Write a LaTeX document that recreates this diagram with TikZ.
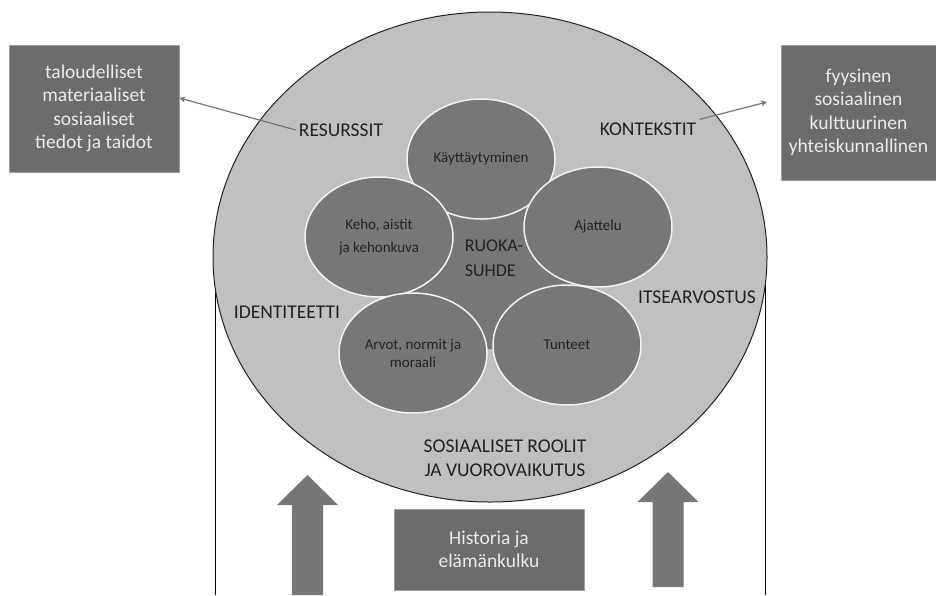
\documentclass[tikz,border=0pt]{standalone}
\usepackage{fontspec}
\setmainfont{Carlito}
\usepackage{xcolor}
\usetikzlibrary{arrows.meta, shapes.geometric}

\definecolor{ringgray}{HTML}{C0C0C0}
\definecolor{topicgray}{HTML}{777777}
\definecolor{boxgray}{HTML}{6C6C6C}
\definecolor{arrowgray}{HTML}{767676}
\definecolor{inkgray}{HTML}{222222}

\tikzset{
  infobox/.style={draw=gray!75, line width=0.8pt, fill=boxgray, text=white!92!black,
    align=center, inner sep=0pt, font=\fontsize{19.5}{23.5}\selectfont},
  topic/.style={ellipse, draw=white!95!black, line width=1.5pt, fill=topicgray,
    minimum width=148pt, minimum height=120pt, inner sep=0pt, align=center,
    text=inkgray, font=\fontsize{15}{18}\selectfont},
  ringlabel/.style={text=inkgray, align=center, inner sep=3pt,
    font=\fontsize{19.5}{23.5}\selectfont},
  pointer/.style={draw=arrowgray, line width=1.2pt, -{Stealth[length=6pt,width=6pt]}}
}

\begin{document}
\begin{tikzpicture}[x=1pt, y=-1pt]
  \useasboundingbox (0,0) rectangle (936,595);

  % Frame lines under the ring
  \draw[line width=0.8pt] (215,257) -- (215,595);
  \draw[line width=0.8pt] (765,257) -- (765,595);

  % Outer ring
  \filldraw[fill=ringgray, draw=inkgray, line width=1pt] (490,257) ellipse (277 and 245);

  % Centres of the five topics
  \coordinate (kayc) at (481,159);
  \coordinate (ajac) at (598,227);
  \coordinate (tunc) at (567,345);
  \coordinate (arvc) at (413,353);
  \coordinate (kehc) at (379,237);

  % Core area
  \fill[topicgray] (kayc) -- (ajac) -- (tunc) -- (arvc) -- (kehc) -- cycle;
  \node[ringlabel, align=left, font=\fontsize{18}{25}\selectfont] (ruoka) at (494,258) {RUOKA-\\SUHDE};

  % Topics
  \node[topic] (kay) at (kayc) {Käyttäytyminen};
  \node[topic, font=\fontsize{15}{23}\selectfont] (keh) at (kehc) {Keho, aistit\\ja kehonkuva};
  \node[topic] (aja) at (ajac) {Ajattelu};
  \node[topic] (arv) at (arvc) {Arvot, normit ja\\moraali};
  \node[topic] (tun) at (tunc) {Tunteet};

  % Ring labels
  \node[ringlabel] (res) at (341,130) {RESURSSIT};
  \node[ringlabel] (kon) at (648,129) {KONTEKSTIT};
  \node[ringlabel] (ide) at (287,312) {IDENTITEETTI};
  \node[ringlabel] (its) at (697,297) {ITSEARVOSTUS};
  \node[ringlabel] (sos) at (505,458) {SOSIAALISET ROOLIT\\JA VUOROVAIKUTUS};

  % Side boxes
  \node[infobox, minimum width=170pt, minimum height=127pt] (talous) at (94,108.5)
    {taloudelliset\\materiaaliset\\sosiaaliset\\tiedot ja taidot};
  \node[infobox, minimum width=155pt, minimum height=135pt] (ymparisto) at (858.5,112.5)
    {fyysinen\\sosiaalinen\\kulttuurinen\\yhteiskunnallinen};
  \coordinate (konto) at (767,102);

  \draw[pointer] (res.west) -- (talous.7);
  \draw[pointer] (kon.north east) -- (konto);

  % Bottom box and block arrows
  \node[infobox, minimum width=190pt, minimum height=81pt] (hist) at (489,549.5)
    {Historia ja\\elämänkulku};
  \foreach \ax/\ay/\ab in {307.5/475/595, 668/472/587}
    \fill[arrowgray] (\ax-15.5,\ab) -- (\ax-15.5,\ay+30) -- (\ax-30.5,\ay+30) -- (\ax,\ay)
      -- (\ax+30.5,\ay+30) -- (\ax+15.5,\ay+30) -- (\ax+15.5,\ab) -- cycle;
\end{tikzpicture}
\end{document}
